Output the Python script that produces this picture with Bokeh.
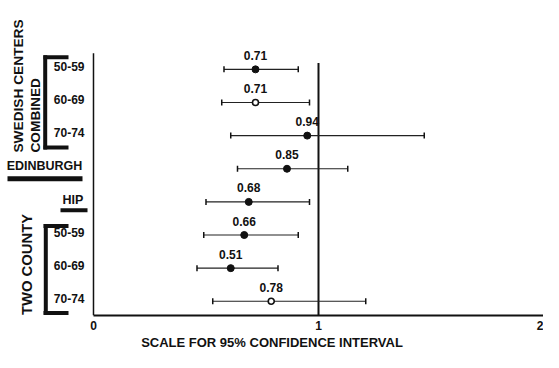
import math
from bokeh.plotting import figure
from bokeh.models import Range1d, LinearAxis, FixedTicker
from bokeh.core.properties import value
from bokeh.embed import file_html
from bokeh.resources import INLINE

# ---------------- data ----------------
studies = ["Swedish 50-59", "Swedish 60-69", "Swedish 70-74", "Edinburgh", "HIP",
           "Two County 50-59", "Two County 60-69", "Two County 70-74"]
point = [0.72, 0.72, 0.95, 0.86, 0.69, 0.67, 0.61, 0.79]
lower = [0.58, 0.57, 0.61, 0.64, 0.50, 0.49, 0.46, 0.53]
upper = [0.91, 0.96, 1.47, 1.13, 0.96, 0.91, 0.82, 1.21]
point_labels = ["0.71", "0.71", "0.94", "0.85", "0.68", "0.66", "0.51", "0.78"]
filled = [True, False, True, True, True, True, True, False]
age_labels = ["50-59", "60-69", "70-74"]
x_ticks = [0, 1, 2]
reference_value = 1
axis_title = "SCALE FOR 95% CONFIDENCE INTERVAL"

rows = list(range(len(studies)))

# ---------------- layout helpers ----------------
W, H = 543, 352
FRAME_H = 317
X0, X1 = -0.4133, 2.0
ROW0_PX, ROW_STEP = 69.3, 33.34
Y_TOP = -ROW0_PX / ROW_STEP
Y_BOT = (FRAME_H - ROW0_PX) / ROW_STEP
SX = W / (X1 - X0)
def px2x(px):
    return X0 + px / SX
def py2y(py):
    return (py - ROW0_PX) / ROW_STEP

FONT = value("Liberation Sans")
INK = "#111111"

p = figure(width=W, height=H, output_backend="svg", toolbar_location=None,
           x_range=Range1d(X0, X1), y_range=Range1d(Y_BOT, Y_TOP),
           x_axis_type=None, y_axis_type=None,
           min_border_left=0, min_border_right=0, min_border_top=0,
           min_border_bottom=H - FRAME_H)
p.outline_line_color = None
p.xgrid.visible = False
p.ygrid.visible = False
p.background_fill_color = "white"
p.border_fill_color = "white"

ax = LinearAxis(bounds=(x_ticks[0], x_ticks[-1]), ticker=FixedTicker(ticks=x_ticks))
ax.axis_line_width = 2
ax.axis_line_color = INK
ax.major_tick_out = 0
ax.major_tick_in = 0
ax.minor_tick_out = 0
ax.minor_tick_in = 0
ax.major_label_text_font = "Liberation Sans"
ax.major_label_text_font_style = "bold"
ax.major_label_text_font_size = "12px"
ax.major_label_text_color = INK
ax.major_label_standoff = 5
ax.axis_label = axis_title
ax.axis_label_text_font = "Liberation Sans"
ax.axis_label_text_font_style = "bold"
ax.axis_label_text_font_size = "13px"
ax.axis_label_text_color = INK
ax.axis_label_standoff = 2
p.add_layout(ax, "below")

# vertical axis line at 0 and reference line at 1
p.segment(x0=[0], y0=[py2y(53)], x1=[0], y1=[Y_BOT], line_color=INK, line_width=1.5)
p.segment(x0=[reference_value], y0=[py2y(63)], x1=[reference_value], y1=[Y_BOT],
          line_color=INK, line_width=2)

# confidence intervals
p.segment(x0=lower, y0=rows, x1=upper, y1=rows, line_color="#222222", line_width=1.2)
p.scatter(x=lower + upper, y=rows + rows, marker="dash", angle=math.pi / 2, size=6,
          line_color=INK, line_width=1.5)

# points
fx = [v for v, f in zip(point, filled) if f]
fy = [r for r, f in zip(rows, filled) if f]
ox = [v for v, f in zip(point, filled) if not f]
oy = [r for r, f in zip(rows, filled) if not f]
p.scatter(x=fx, y=fy, marker="circle", size=7, fill_color=INK, line_color=INK)
p.scatter(x=ox, y=oy, marker="circle", size=6, fill_color="white", line_color=INK,
          line_width=1.6)

p.text(x=point, y=rows, text=point_labels, y_offset=-14, text_align="center",
       text_baseline="middle", text_font=FONT, text_font_style="bold",
       text_font_size="12px", text_color=INK)

# ---------------- left-hand group annotations ----------------
for (xv, yt, yb, yh1, yh2) in [(44.7, 55, 150, 57, 148), (45.3, 225, 316, 227, 314.5)]:
    p.segment(x0=[px2x(xv)], y0=[py2y(yt)], x1=[px2x(xv)], y1=[py2y(yb)],
              line_color=INK, line_width=4)
    p.segment(x0=[px2x(43), px2x(43)], y0=[py2y(yh1), py2y(yh2)],
              x1=[px2x(68), px2x(68)], y1=[py2y(yh1), py2y(yh2)],
              line_color=INK, line_width=4)
p.segment(x0=[px2x(7)], y0=[py2y(179.5)], x1=[px2x(82)], y1=[py2y(179.5)],
          line_color=INK, line_width=5)
p.segment(x0=[px2x(60)], y0=[py2y(211)], x1=[px2x(87)], y1=[py2y(211)],
          line_color=INK, line_width=4)

age_rows = [0, 1, 2, 5, 6, 7]
p.text(x=[px2x(84)] * 6, y=age_rows, text=age_labels + age_labels, y_offset=-3,
       text_align="right", text_baseline="middle", text_font=FONT,
       text_font_style="bold", text_font_size="12px", text_color=INK)

p.text(x=[px2x(17.5), px2x(34.7)], y=[py2y(153), py2y(153)],
       text=["SWEDISH CENTERS", "COMBINED"], angle=math.pi / 2,
       text_align="left", text_baseline="middle", text_font=FONT,
       text_font_style="bold", text_font_size="13.7px", text_color=INK)
p.text(x=[px2x(26)], y=[py2y(316.5)], text=["TWO COUNTY"], angle=math.pi / 2,
       text_align="left", text_baseline="middle", text_font=FONT,
       text_font_style="bold", text_font_size="14.8px", text_color=INK)

p.text(x=[px2x(44), px2x(72.5)], y=[py2y(167), py2y(200.7)],
       text=["EDINBURGH", "HIP"], text_align="center", text_baseline="middle",
       text_font=FONT, text_font_style="bold", text_font_size="12.5px",
       text_color=INK)

open("out.html", "w").write(file_html(p, INLINE))
